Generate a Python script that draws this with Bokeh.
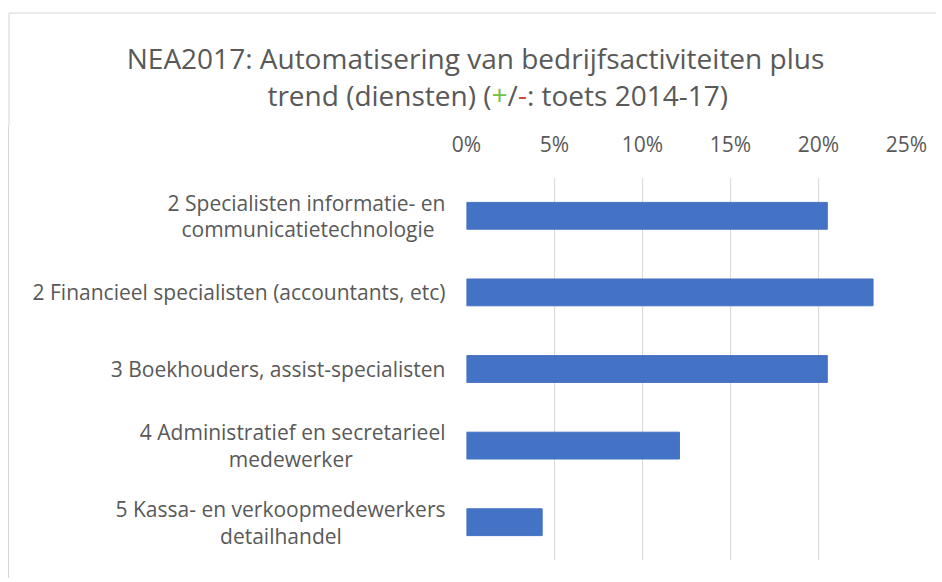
from bokeh.plotting import figure
from bokeh.layouts import column
from bokeh.models import FactorRange, Range1d, FixedTicker, NumeralTickFormatter
from bokeh.core.properties import value
from bokeh.embed import file_html
from bokeh.resources import INLINE

# ---- data ----
categories = [
    "2 Specialisten informatie- en\ncommunicatietechnologie",
    "2 Financieel specialisten (accountants, etc)",
    "3 Boekhouders, assist-specialisten",
    "4 Administratief en secretarieel\nmedewerker",
    "5 Kassa- en verkoopmedewerkers\ndetailhandel",
]
shares = [0.205, 0.231, 0.205, 0.121, 0.043]
x_ticks = [0.0, 0.05, 0.10, 0.15, 0.20, 0.25]
title_line1 = "NEA2017: Automatisering van bedrijfsactiviteiten plus"
title_line2_parts = ["trend (diensten) (", "+", "/", "-", ": toets 2014-17)"]

FONT = "Open Sans"
GRAY = "#595959"
W = 936

# second lines of wrapped labels are centred under the first line (as in Excel):
# pad them on the right with no-break spaces
pad = [2, 0, 0, 17, 19]
labels = []
for c, n in zip(categories, pad):
    if "\n" in c:
        a, b = c.split("\n")
        c = a + "\n" + b + "\u00a0" * n
    labels.append(c)

# ---- title figure ----
TH = 126
t = figure(width=W, height=TH, x_range=Range1d(0, W), y_range=Range1d(TH, 0),
           output_backend="svg", toolbar_location=None, min_border=0)
t.frame_align = False
t.axis.visible = False
t.grid.visible = False
t.outline_line_color = None
t.text(x=[475], y=[57], text=[title_line1], text_font=value(FONT),
       text_font_size="28px", text_color=GRAY, text_align="center",
       text_baseline="alphabetic")
x0, y2 = 491, 94
t.text(x=[x0], y=[y2], text=[title_line2_parts[0]], text_font=value(FONT),
       text_font_size="28px", text_color=GRAY, text_align="right",
       text_baseline="alphabetic")
offsets = [0, 16, 26.4, 35.4]
seg_col = ["#70bf46", GRAY, "#d9413c", GRAY]
t.text(x=[x0 + d for d in offsets], y=[y2] * 4, text=title_line2_parts[1:],
       text_font=value(FONT), text_font_size="28px", text_color=seg_col,
       text_align="left", text_baseline="alphabetic")
# chart border (top + left)
t.segment(x0=[8.5, 8.5], y0=[12.5, 12.5], x1=[W + 10, 8.5], y1=[12.5, TH],
          line_color="#d6d6d6", line_width=1)

# ---- main chart ----
p = figure(width=W, height=452,
           y_range=FactorRange(factors=list(reversed(labels))),
           x_range=Range1d(0, 0.25),
           x_axis_location="above",
           output_backend="svg", toolbar_location=None,
           min_border_left=466, min_border_right=W - 906,
           min_border_top=51, min_border_bottom=18)
p.frame_align = False
p.hbar(y=labels, right=shares, height=0.35, color="#4472C4")

p.outline_line_color = None
p.border_fill_color = None
p.styles = {"background": "linear-gradient(to right, #ffffff 8px, #d6d6d6 8px, #d6d6d6 9px, #ffffff 9px)"}
p.ygrid.grid_line_color = None
p.xgrid.grid_line_color = "#d9d9d9"
p.xgrid.ticker = FixedTicker(ticks=x_ticks)

xa = p.xaxis[0]
xa.ticker = FixedTicker(ticks=x_ticks)
xa.formatter = NumeralTickFormatter(format="0%")
xa.axis_line_color = None
xa.major_tick_line_color = None
xa.minor_tick_line_color = None
xa.major_tick_out = 0
xa.major_label_standoff = 20
xa.major_label_text_font = FONT
xa.major_label_text_font_size = "21px"
xa.major_label_text_color = GRAY

ya = p.yaxis[0]
ya.axis_line_color = None
ya.major_tick_line_color = None
ya.minor_tick_line_color = None
ya.major_tick_out = 0
ya.major_label_standoff = 21
ya.major_label_text_font = FONT
ya.major_label_text_font_size = "21px"
ya.major_label_text_line_height = 0.95
ya.major_label_text_color = GRAY

layout = column(t, p)
open("out.html", "w").write(file_html(layout, INLINE))
